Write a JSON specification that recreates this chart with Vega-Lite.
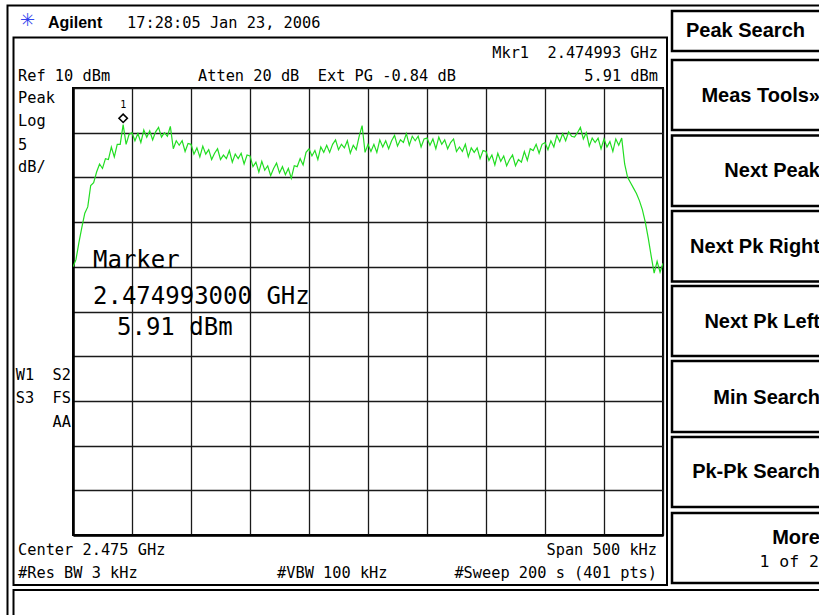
{
  "$schema": "https://vega.github.io/schema/vega-lite/v6.json",
  "autosize": {"type": "none"},
  "padding": {"left": 73, "top": 88, "right": 156, "bottom": 80},
  "width": 590,
  "height": 447,
  "background": "white",
  "config": {
    "view": {"stroke": "#000", "strokeWidth": 2},
    "axis": {"grid": true, "gridColor": "#1a1a1a", "gridWidth": 1.3, "gridOpacity": 1, "labels": false, "ticks": false, "domain": true, "domainColor": "#000", "domainWidth": 2.5, "title": null}
  },
  "encoding": {
    "x": {"field": "f", "type": "quantitative", "scale": {"domain": [2474.95, 2475.45], "nice": false, "zero": false}, "axis": {"values": [2474.95, 2475.0, 2475.05, 2475.1, 2475.15, 2475.2, 2475.25, 2475.3, 2475.35, 2475.4, 2475.45]}},
    "y": {"field": "d", "type": "quantitative", "scale": {"domain": [-40, 10], "nice": false, "zero": false}, "axis": {"values": [-40, -35, -30, -25, -20, -15, -10, -5, 0, 5, 10]}}
  },
  "layer": [
    {
      "data": {"values": [
        {"f": 2474.89449, "f2": 2475.65085, "d": 19.228, "d2": -58.456},
        {"f": 2474.89958, "f2": 2475.45339, "d": 15.649, "d2": -45.593},
        {"f": 2474.89958, "f2": 2475.65085, "d": -46.152, "d2": -58.456}
      ]},
      "mark": {"type": "rect", "filled": false, "stroke": "#000", "strokeWidth": 2, "clip": false},
      "encoding": {"x2": {"field": "f2"}, "y2": {"field": "d2"}}
    },
    {
      "data": {"values": [
        {"f": 2475.45763, "f2": 2475.65085, "d": 18.613, "d2": 14.139},
        {"f": 2475.45763, "f2": 2475.65085, "d": 13.132, "d2": 5.302},
        {"f": 2475.45763, "f2": 2475.65085, "d": 4.687, "d2": -3.199},
        {"f": 2475.45763, "f2": 2475.65085, "d": -3.758, "d2": -11.644},
        {"f": 2475.45763, "f2": 2475.65085, "d": -12.148, "d2": -19.978},
        {"f": 2475.45763, "f2": 2475.65085, "d": -20.537, "d2": -28.479},
        {"f": 2475.45763, "f2": 2475.65085, "d": -29.038, "d2": -36.868},
        {"f": 2475.45763, "f2": 2475.65085, "d": -37.539, "d2": -45.369}
      ]},
      "mark": {"type": "rect", "filled": false, "stroke": "#000", "strokeWidth": 2.5, "clip": false},
      "encoding": {"x2": {"field": "f2"}, "y2": {"field": "d2"}}
    },
    {
      "data": {"values": [
        {"f":2474.95,"d":-10.0},{"f":2474.9525,"d":-9.2},{"f":2474.955,"d":-7.3},{"f":2474.9575,"d":-5.6},{"f":2474.96,"d":-4.0},
        {"f":2474.9625,"d":-3.3},{"f":2474.965,"d":-0.9},{"f":2474.9675,"d":-0.6},{"f":2474.97,"d":0.6},{"f":2474.9725,"d":1.5},
        {"f":2474.975,"d":1.0},{"f":2474.9775,"d":2.1},{"f":2474.98,"d":2.0},{"f":2474.9825,"d":3.4},{"f":2474.985,"d":2.3},
        {"f":2474.9875,"d":3.7},{"f":2474.99,"d":3.7},{"f":2474.9925,"d":5.91},{"f":2474.995,"d":3.7},{"f":2474.9975,"d":4.8},
        {"f":2475.0,"d":5.0},{"f":2475.0025,"d":4.1},{"f":2475.005,"d":4.9},{"f":2475.0075,"d":3.9},{"f":2475.01,"d":5.3},
        {"f":2475.0125,"d":4.5},{"f":2475.015,"d":5.2},{"f":2475.0175,"d":4.2},{"f":2475.02,"d":5.1},{"f":2475.0225,"d":5.6},
        {"f":2475.025,"d":4.5},{"f":2475.0275,"d":5.0},{"f":2475.03,"d":4.6},{"f":2475.0325,"d":5.7},{"f":2475.035,"d":3.2},
        {"f":2475.0375,"d":4.1},{"f":2475.04,"d":3.6},{"f":2475.0425,"d":4.1},{"f":2475.045,"d":2.9},{"f":2475.0475,"d":3.8},
        {"f":2475.05,"d":3.7},{"f":2475.0525,"d":2.6},{"f":2475.055,"d":3.3},{"f":2475.0575,"d":2.3},{"f":2475.06,"d":3.5},
        {"f":2475.0625,"d":2.6},{"f":2475.065,"d":3.1},{"f":2475.0675,"d":2.0},{"f":2475.07,"d":2.7},{"f":2475.0725,"d":3.2},
        {"f":2475.075,"d":2.0},{"f":2475.0775,"d":2.5},{"f":2475.08,"d":2.1},{"f":2475.0825,"d":3.0},{"f":2475.085,"d":1.7},
        {"f":2475.0875,"d":2.6},{"f":2475.09,"d":2.1},{"f":2475.0925,"d":2.7},{"f":2475.095,"d":1.5},{"f":2475.0975,"d":2.5},
        {"f":2475.1,"d":2.4},{"f":2475.1025,"d":1.2},{"f":2475.105,"d":1.7},{"f":2475.1075,"d":0.6},{"f":2475.11,"d":1.8},
        {"f":2475.1125,"d":0.8},{"f":2475.115,"d":1.3},{"f":2475.1175,"d":0.2},{"f":2475.12,"d":1.0},{"f":2475.1225,"d":1.6},
        {"f":2475.125,"d":0.5},{"f":2475.1275,"d":1.2},{"f":2475.13,"d":0.3},{"f":2475.1325,"d":1.0},{"f":2475.135,"d":-0.1},
        {"f":2475.1375,"d":1.3},{"f":2475.14,"d":1.2},{"f":2475.1425,"d":2.1},{"f":2475.145,"d":1.4},{"f":2475.1475,"d":2.8},
        {"f":2475.15,"d":3.2},{"f":2475.1525,"d":2.4},{"f":2475.155,"d":3.0},{"f":2475.1575,"d":2.0},{"f":2475.16,"d":3.4},
        {"f":2475.1625,"d":2.8},{"f":2475.165,"d":3.6},{"f":2475.1675,"d":2.8},{"f":2475.17,"d":3.7},{"f":2475.1725,"d":4.2},
        {"f":2475.175,"d":3.1},{"f":2475.1775,"d":3.7},{"f":2475.18,"d":3.3},{"f":2475.1825,"d":4.1},{"f":2475.185,"d":2.7},
        {"f":2475.1875,"d":3.6},{"f":2475.19,"d":3.1},{"f":2475.1925,"d":4.6},{"f":2475.195,"d":5.8},{"f":2475.1975,"d":2.8},
        {"f":2475.2,"d":3.7},{"f":2475.2025,"d":2.9},{"f":2475.205,"d":3.7},{"f":2475.2075,"d":2.8},{"f":2475.21,"d":4.2},
        {"f":2475.2125,"d":3.4},{"f":2475.215,"d":4.1},{"f":2475.2175,"d":3.2},{"f":2475.22,"d":4.1},{"f":2475.2225,"d":4.7},
        {"f":2475.225,"d":3.5},{"f":2475.2275,"d":4.2},{"f":2475.23,"d":3.9},{"f":2475.2325,"d":4.9},{"f":2475.235,"d":3.6},
        {"f":2475.2375,"d":4.6},{"f":2475.24,"d":4.1},{"f":2475.2425,"d":4.6},{"f":2475.245,"d":3.4},{"f":2475.2475,"d":4.3},
        {"f":2475.25,"d":4.4},{"f":2475.2525,"d":3.6},{"f":2475.255,"d":4.3},{"f":2475.2575,"d":3.2},{"f":2475.26,"d":4.5},
        {"f":2475.2625,"d":3.7},{"f":2475.265,"d":4.2},{"f":2475.2675,"d":3.2},{"f":2475.27,"d":3.9},{"f":2475.2725,"d":4.3},
        {"f":2475.275,"d":2.9},{"f":2475.2775,"d":3.4},{"f":2475.28,"d":2.9},{"f":2475.2825,"d":3.7},{"f":2475.285,"d":2.3},
        {"f":2475.2875,"d":3.3},{"f":2475.29,"d":2.8},{"f":2475.2925,"d":3.3},{"f":2475.295,"d":2.1},{"f":2475.2975,"d":3.0},
        {"f":2475.3,"d":2.9},{"f":2475.3025,"d":1.9},{"f":2475.305,"d":2.5},{"f":2475.3075,"d":1.4},{"f":2475.31,"d":2.7},
        {"f":2475.3125,"d":1.8},{"f":2475.315,"d":2.4},{"f":2475.3175,"d":1.3},{"f":2475.32,"d":2.0},{"f":2475.3225,"d":2.5},
        {"f":2475.325,"d":1.3},{"f":2475.3275,"d":2.0},{"f":2475.33,"d":1.7},{"f":2475.3325,"d":2.9},{"f":2475.335,"d":1.9},
        {"f":2475.3375,"d":3.2},{"f":2475.34,"d":3.0},{"f":2475.3425,"d":3.7},{"f":2475.345,"d":2.7},{"f":2475.3475,"d":3.7},
        {"f":2475.35,"d":3.9},{"f":2475.3525,"d":3.1},{"f":2475.355,"d":4.1},{"f":2475.3575,"d":3.4},{"f":2475.36,"d":4.7},
        {"f":2475.3625,"d":4.0},{"f":2475.365,"d":4.9},{"f":2475.3675,"d":4.1},{"f":2475.37,"d":5.1},{"f":2475.3725,"d":4.6},
        {"f":2475.375,"d":4.5},{"f":2475.3775,"d":5.0},{"f":2475.38,"d":5.6},{"f":2475.3825,"d":4.3},{"f":2475.385,"d":5.0},
        {"f":2475.3875,"d":3.5},{"f":2475.39,"d":4.4},{"f":2475.3925,"d":3.9},{"f":2475.395,"d":4.4},{"f":2475.3975,"d":3.2},
        {"f":2475.4,"d":4.3},{"f":2475.4025,"d":3.4},{"f":2475.405,"d":4.0},{"f":2475.4075,"d":2.9},{"f":2475.41,"d":4.3},
        {"f":2475.4125,"d":3.6},{"f":2475.415,"d":4.4},{"f":2475.4175,"d":1.5},{"f":2475.42,"d":0.0},{"f":2475.4225,"d":-0.6},
        {"f":2475.425,"d":-1.2},{"f":2475.4275,"d":-1.8},{"f":2475.43,"d":-2.6},{"f":2475.4325,"d":-3.6},{"f":2475.435,"d":-5.0},
        {"f":2475.4375,"d":-6.8},{"f":2475.44,"d":-8.8},{"f":2475.4425,"d":-10.7},{"f":2475.445,"d":-9.4},{"f":2475.4475,"d":-10.6},
        {"f":2475.45,"d":-9.6}
      ]},
      "mark": {"type": "line", "color": "#22dd22", "strokeWidth": 1.2, "clip": true}
    },
    {
      "data": {"values": [{"f": 2474.9925, "d": 6.61}]},
      "mark": {"type": "point", "shape": "diamond", "filled": false, "stroke": "#000", "strokeWidth": 1.6, "size": 70, "opacity": 1, "clip": false}
    },
    {
      "data": {"values": [{"f": 2474.9925, "d": 7.76, "t": "1"}]},
      "mark": {"type": "text", "font": "DejaVu Sans Mono", "fontSize": 10, "align": "center", "baseline": "alphabetic", "color": "#000", "clip": false},
      "encoding": {"text": {"field": "t"}}
    },
    {
      "data": {"values": [
        {"f": 2474.90339, "d": 10.783, "t": "Ref 10 dBm"},
        {"f": 2475.05593, "d": 10.783, "t": "Atten 20 dB \u00a0Ext PG -0.84 dB"},
        {"f": 2474.90339, "d": 8.322, "t": "Peak"},
        {"f": 2474.90339, "d": 5.749, "t": "Log"},
        {"f": 2474.90339, "d": 3.065, "t": "5"},
        {"f": 2474.90339, "d": 0.604, "t": "dB/"},
        {"f": 2474.90339, "d": -42.237, "t": "Center 2.475 GHz"},
        {"f": 2474.90339, "d": -44.81, "t": "#Res BW 3 kHz"},
        {"f": 2475.12288, "d": -44.81, "t": "#VBW 100 kHz"},
        {"f": 2474.99576, "d": 16.711, "t": "17:28:05 Jan 23, 2006"}
      ]},
      "mark": {"type": "text", "font": "DejaVu Sans Mono", "fontSize": 15.3, "align": "left", "baseline": "alphabetic", "color": "#000", "clip": false},
      "encoding": {"text": {"field": "t"}}
    },
    {
      "data": {"values": [
        {"f": 2475.44576, "d": 13.356, "t": "Mkr1 \u00a02.474993 GHz"},
        {"f": 2475.44576, "d": 10.783, "t": "5.91 dBm"},
        {"f": 2475.44492, "d": -42.237, "t": "Span 500 kHz"},
        {"f": 2475.44492, "d": -44.81, "t": "#Sweep 200 s (401 pts)"},
        {"f": 2474.94831, "d": -22.662, "t": "W1 \u00a0S2"},
        {"f": 2474.94831, "d": -25.235, "t": "S3 \u00a0FS"},
        {"f": 2474.94831, "d": -27.919, "t": "AA"}
      ]},
      "mark": {"type": "text", "font": "DejaVu Sans Mono", "fontSize": 15.3, "align": "right", "baseline": "alphabetic", "color": "#000", "clip": false},
      "encoding": {"text": {"field": "t"}}
    },
    {
      "data": {"values": [
        {"f": 2474.96695, "d": -10.134, "t": "Marker"},
        {"f": 2474.96695, "d": -14.161, "t": "2.474993000 GHz"},
        {"f": 2474.98729, "d": -17.629, "t": "5.91 dBm"}
      ]},
      "mark": {"type": "text", "font": "DejaVu Sans Mono", "fontSize": 24, "align": "left", "baseline": "alphabetic", "color": "#000", "clip": false},
      "encoding": {"text": {"field": "t"}}
    },
    {
      "data": {"values": [
        {"f": 2475.58305, "d": 8.434, "t": "Meas Tools»"},
        {"f": 2475.58305, "d": 0.045, "t": "Next Peak"},
        {"f": 2475.58305, "d": -8.456, "t": "Next Pk Right"},
        {"f": 2475.58305, "d": -16.846, "t": "Next Pk Left"},
        {"f": 2475.58305, "d": -25.347, "t": "Min Search"},
        {"f": 2475.58305, "d": -33.624, "t": "Pk-Pk Search"},
        {"f": 2475.58305, "d": -41.007, "t": "More"}
      ]},
      "mark": {"type": "text", "font": "Liberation Sans", "fontWeight": "bold", "fontSize": 20, "align": "right", "baseline": "alphabetic", "color": "#000", "clip": false},
      "encoding": {"text": {"field": "t"}}
    },
    {
      "data": {"values": [{"f": 2475.46949, "d": 15.705, "t": "Peak Search"}]},
      "mark": {"type": "text", "font": "Liberation Sans", "fontWeight": "bold", "fontSize": 20, "align": "left", "baseline": "alphabetic", "color": "#000", "clip": false},
      "encoding": {"text": {"field": "t"}}
    },
    {
      "data": {"values": [{"f": 2475.5822, "d": -43.579, "t": "1 of 2"}]},
      "mark": {"type": "text", "font": "DejaVu Sans Mono", "fontSize": 16.5, "align": "right", "baseline": "alphabetic", "color": "#000", "clip": false},
      "encoding": {"text": {"field": "t"}}
    },
    {
      "data": {"values": [{"f": 2474.92881, "d": 16.711, "t": "Agilent"}]},
      "mark": {"type": "text", "font": "Liberation Sans", "fontWeight": "bold", "fontSize": 16, "align": "left", "baseline": "alphabetic", "color": "#000", "clip": false},
      "encoding": {"text": {"field": "t"}}
    },
    {
      "data": {"values": [{"f": 2474.91144, "d": 17.494, "t": "✳"}]},
      "mark": {"type": "text", "font": "DejaVu Sans", "fontSize": 18, "align": "center", "baseline": "middle", "color": "#3344ee", "clip": false},
      "encoding": {"text": {"field": "t"}}
    }
  ]
}
